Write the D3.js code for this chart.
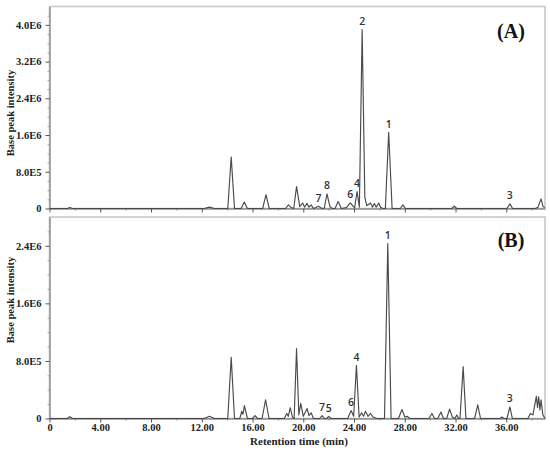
<!DOCTYPE html>
<html>
<head>
<meta charset="utf-8">
<script src="https://cdn.jsdelivr.net/npm/d3@7"></script>
<style>
  html, body { margin: 0; padding: 0; background: #ffffff; }
  svg { display: block; }
</style>
</head>
<body>
<svg id="chart" width="550" height="453"></svg>
<script>
// ---------- DATA ----------
// Panel A trace: retention time (min) and base peak intensity
const timeA = [0, 1.4, 1.6, 1.8, 12.2, 12.6, 13.0, 14.05, 14.32, 14.58, 15.1, 15.35, 15.6, 16.8, 17.06, 17.32,
  18.6, 18.83, 19.05, 19.25, 19.47, 19.72, 19.95, 20.1, 20.3, 20.45, 20.62, 20.8, 21.0, 21.2, 21.4, 21.65,
  21.87, 22.1, 22.3, 22.5, 22.75, 23.0, 23.4, 23.71, 23.92, 24.05, 24.24, 24.42, 24.64, 24.85, 25.0, 25.3,
  25.45, 25.6, 25.75, 25.95, 26.1, 26.3, 26.47, 26.73, 27.0, 27.65, 27.85, 28.05, 31.7, 31.9, 32.1,
  36.05, 36.28, 36.5, 38.3, 38.5, 38.74, 38.9, 39.05];
const intensityA = [0, 0, 20000, 0, 0, 30000, 0, 0, 1120000, 0, 0, 140000, 0, 0, 300000, 0,
  0, 80000, 20000, 0, 480000, 40000, 120000, 30000, 110000, 30000, 80000, 0, 20000, 50000, 10000, 0,
  320000, 40000, 0, 0, 150000, 0, 20000, 120000, 50000, 20000, 370000, 30000, 3900000, 250000, 60000, 120000,
  30000, 110000, 30000, 120000, 20000, 0, 0, 1660000, 0, 0, 80000, 0, 0, 50000, 0,
  0, 100000, 0, 0, 30000, 210000, 40000, 20000];

// Panel B trace
const timeB = [0, 1.4, 1.6, 1.8, 12.2, 12.6, 13.0, 14.05, 14.32, 14.58, 15.0, 15.15, 15.25, 15.36, 15.6,
  16.0, 16.2, 16.4, 16.75, 17.03, 17.3, 18.5, 18.7, 18.82, 18.97, 19.15, 19.28, 19.47, 19.65, 19.8, 20.0,
  20.3, 20.45, 20.62, 20.8, 21.3, 21.48, 21.65, 21.85, 22.0, 22.2, 23.5, 23.77, 23.97, 24.19, 24.4, 24.6,
  24.75, 24.9, 25.1, 25.3, 25.5, 25.8, 26.4, 26.66, 26.92, 27.5, 27.78, 28.0, 28.2, 28.4, 29.9, 30.14,
  30.35, 30.6, 30.85, 31.05, 31.3, 31.53, 31.75, 31.95, 32.1, 32.25, 32.35, 32.6, 32.82, 33.5, 33.75, 33.97,
  35.5, 35.66, 35.8, 36.05, 36.28, 36.48, 37.7, 37.9, 38.1, 38.37, 38.46, 38.55, 38.65, 38.74, 38.88, 39.05];
const intensityB = [0, 0, 25000, 0, 0, 30000, 0, 0, 850000, 0, 0, 100000, 60000, 180000, 0,
  0, 40000, 0, 0, 260000, 0, 0, 70000, 30000, 150000, 20000, 0, 970000, 50000, 210000, 30000,
  140000, 40000, 80000, 0, 0, 40000, 0, 0, 30000, 0, 0, 110000, 30000, 740000, 20000, 80000,
  30000, 100000, 30000, 70000, 20000, 0, 0, 2430000, 0, 0, 125000, 20000, 30000, 0, 0, 70000,
  0, 0, 90000, 0, 0, 130000, 20000, 0, 50000, 0, 0, 720000, 0, 0, 190000, 0,
  0, 20000, 0, 0, 160000, 0, 0, 70000, 50000, 310000, 150000, 300000, 120000, 260000, 50000, 0];

// Peak annotations
const labelNamesA = ["2", "1", "4", "6", "8", "7", "3"];
const labelTimesA = [24.64, 26.73, 24.24, 23.71, 21.87, 21.2, 36.28];
const labelNamesB = ["1", "4", "6", "7", "5", "3"];
const labelTimesB = [26.66, 24.19, 23.77, 21.48, 22.0, 36.28];

// Axis ticks
const xTicks = [0, 4, 8, 12, 16, 20, 24, 28, 32, 36];
const xTickLabels = ["0", "4.00", "8.00", "12.00", "16.00", "20.00", "24.00", "28.00", "32.00", "36.00"];
const yTicksA = [0, 800000, 1600000, 2400000, 3200000, 4000000];
const yTickLabelsA = ["0", "8.0E5", "1.6E6", "2.4E6", "3.2E6", "4.0E6"];
const yTicksB = [0, 800000, 1600000, 2400000];
const yTickLabelsB = ["0", "8.0E5", "1.6E6", "2.4E6"];
const panelTitles = ["(A)", "(B)"];
const yTitle = "Base peak intensity";
const xTitle = "Retention time (min)";

// ---------- DRAWING ----------
const svg = d3.select("#chart");
const x = d3.scaleLinear().domain([0, 39.05]).range([49.5, 545]);

const panels = [
  { time: timeA, inten: intensityA, names: labelNamesA, ltimes: labelTimesA,
    yTicks: yTicksA, yLabels: yTickLabelsA, top: 6.5, bottom: 208.5, ymax: 4400000,
    title: panelTitles[0], showXLabels: false, titleY: 38, yTitleY: 113 },
  { time: timeB, inten: intensityB, names: labelNamesB, ltimes: labelTimesB,
    yTicks: yTicksB, yLabels: yTickLabelsB, top: 217, bottom: 418.5, ymax: 2800000,
    title: panelTitles[1], showXLabels: true, titleY: 247, yTitleY: 300 }
];

const serif = "'Liberation Serif', 'Times New Roman', serif";

panels.forEach(p => {
  const y = d3.scaleLinear().domain([0, p.ymax]).range([p.bottom, p.top]);
  const g = svg.append("g");

  // frame (light gray)
  g.append("rect")
    .attr("x", x.range()[0]).attr("y", p.top)
    .attr("width", x.range()[1] - x.range()[0]).attr("height", p.bottom - p.top)
    .attr("fill", "none").attr("stroke", "#c9c9c9").attr("stroke-width", 1.6);

  // minor y ticks
  const minorY = d3.range(0, p.ymax, 200000).filter(v => v % 800000 !== 0);
  g.append("g").attr("transform", `translate(${x.range()[0]},0)`)
    .call(d3.axisLeft(y).tickValues(minorY).tickSize(2).tickSizeOuter(0).tickFormat(""))
    .call(a => a.select(".domain").remove())
    .call(a => a.selectAll("line").attr("stroke", "#aaa"));

  // y axis
  const yAxis = g.append("g").attr("transform", `translate(${x.range()[0]},0)`)
    .call(d3.axisLeft(y).tickValues(p.yTicks).tickSize(4).tickSizeOuter(0)
      .tickFormat((d, i) => p.yLabels[i]));
  yAxis.select(".domain").attr("stroke", "#888").attr("stroke-width", 1.3);
  yAxis.selectAll("line").attr("stroke", "#555");
  yAxis.selectAll("text").attr("font-family", serif).attr("font-weight", "bold")
    .attr("font-size", "10.5px").attr("fill", "#222").attr("dx", "-1");

  // minor x ticks
  g.append("g").attr("transform", `translate(0,${p.bottom})`)
    .call(d3.axisBottom(x).tickValues(d3.range(2, 39, 4)).tickSize(2).tickSizeOuter(0).tickFormat(""))
    .call(a => a.select(".domain").remove())
    .call(a => a.selectAll("line").attr("stroke", "#999"));

  // x axis
  const xAxis = g.append("g").attr("transform", `translate(0,${p.bottom})`)
    .call(d3.axisBottom(x).tickValues(xTicks).tickSize(4).tickSizeOuter(0)
      .tickFormat((d, i) => p.showXLabels ? xTickLabels[i] : ""));
  xAxis.select(".domain").attr("stroke", "#666").attr("stroke-width", 1.2);
  xAxis.selectAll("line").attr("stroke", "#555");
  xAxis.selectAll("text").attr("font-family", serif).attr("font-weight", "bold")
    .attr("font-size", "10.5px").attr("fill", "#222").attr("dy", "0.55em");

  // trace
  const pts = p.time.map((t, i) => [t, p.inten[i]]);
  g.append("path").datum(pts)
    .attr("fill", "none").attr("stroke", "#4a4a4a").attr("stroke-width", 1.15)
    .attr("stroke-linejoin", "round")
    .attr("d", d3.line().x(d => x(d[0])).y(d => y(d[1])));

  // peak labels
  p.names.forEach((n, i) => {
    const t = p.ltimes[i];
    const near = pts.filter(d => Math.abs(d[0] - t) <= 0.12);
    const h = d3.max(near, d => d[1]) || 0;
    g.append("text").attr("x", x(t)).attr("y", y(h) - 4.5)
      .attr("text-anchor", "middle")
      .attr("font-family", "'Open Sans', 'DejaVu Sans', sans-serif")
      .attr("font-weight", "600")
      .attr("font-size", "10.5px").attr("fill", "#333").text(n);
  });

  // panel title
  g.append("text").attr("x", 511).attr("y", p.titleY)
    .attr("text-anchor", "middle").attr("font-family", serif)
    .attr("font-weight", "bold").attr("font-size", "20px").attr("fill", "#111").text(p.title);

  // y-axis title
  g.append("text")
    .attr("transform", `translate(14,${p.yTitleY}) rotate(-90)`)
    .attr("text-anchor", "middle").attr("font-family", serif)
    .attr("font-weight", "bold").attr("font-size", "10.5px").attr("fill", "#222").text(yTitle);
});

// x-axis title
svg.append("text").attr("x", 299).attr("y", 445)
  .attr("text-anchor", "middle").attr("font-family", serif)
  .attr("font-weight", "bold").attr("font-size", "11px").attr("fill", "#222").text(xTitle);
</script>
</body>
</html>
